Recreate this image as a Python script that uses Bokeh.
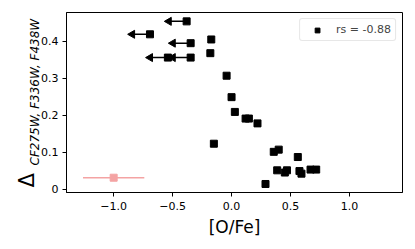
import math
from bokeh.plotting import figure
from bokeh.models import Range1d, Legend, LegendItem, FixedTicker, Title
from bokeh.embed import file_html
from bokeh.resources import INLINE

# upper-limit points (arrows to the left)
ul_x = [-0.381, -0.692, -0.347, -0.54, -0.347]
ul_y = [0.454, 0.419, 0.395, 0.356, 0.356]
arrow_len = 0.15

# detected points
pt_x = [-0.172, -0.18, -0.042, 0.0, 0.028, 0.119, 0.147, 0.22, -0.15, 0.358,
        0.40, 0.562, 0.387, 0.452, 0.47, 0.576, 0.593, 0.67, 0.718, 0.288]
pt_y = [0.405, 0.368, 0.307, 0.249, 0.209, 0.191, 0.191, 0.178, 0.123, 0.101,
        0.107, 0.087, 0.051, 0.045, 0.051, 0.049, 0.042, 0.053, 0.053, 0.014]

# typical error point
err_x = [-1.0]
err_y = [0.031]
err_dx = [0.26]

x_ticks = [-1.0, -0.5, 0.0, 0.5, 1.0]
y_ticks = [0.0, 0.1, 0.2, 0.3, 0.4]
legend_label = "rs = -0.88"
y_label_main = "\u0394"
y_label_sub = "CF275W, F336W, F438W"
x_label = "[O/Fe]"

FONT = "DejaVu Sans"

p = figure(width=415, height=249, output_backend="svg", toolbar_location=None,
           x_range=Range1d(-1.40, 1.45), y_range=Range1d(-0.009, 0.478),
           min_border_left=66, min_border_right=13, min_border_top=12,
           min_border_bottom=57)
p.grid.visible = False
p.outline_line_color = "black"
p.outline_line_width = 1
p.background_fill_color = "white"
p.border_fill_color = "white"

for ax in (p.xaxis[0], p.yaxis[0]):
    ax.major_label_text_font = FONT
    ax.major_label_text_font_size = "11px"
    ax.major_label_text_color = "black"
    ax.minor_tick_line_color = None
    ax.major_tick_out = 4
    ax.major_tick_in = 0
    ax.axis_line_color = "black"
    ax.major_tick_line_color = "black"
p.yaxis.major_label_standoff = 4
p.xaxis.ticker = FixedTicker(ticks=x_ticks)
p.yaxis.ticker = FixedTicker(ticks=y_ticks)
p.xaxis.major_label_overrides = {t: ("\u2212%.1f" % abs(t) if t < 0 else "%.1f" % t) for t in x_ticks}
p.xaxis.axis_label = x_label
p.xaxis.axis_label_text_font = FONT
p.xaxis.axis_label_text_font_size = "17px"
p.xaxis.axis_label_text_font_style = "normal"
p.xaxis.axis_label_text_color = "black"
p.xaxis.axis_label_standoff = 4

# error point
p.segment(x0=[x - d for x, d in zip(err_x, err_dx)], y0=err_y,
          x1=[x + d for x, d in zip(err_x, err_dx)], y1=err_y,
          line_color="#f4a3a3", line_width=1.5)
p.scatter(err_x, err_y, marker="square", size=7, color="#f4a3a3")

# upper limits
p.segment(x0=ul_x, y0=ul_y, x1=[x - arrow_len for x in ul_x], y1=ul_y,
          line_color="black", line_width=1.5)
p.scatter([x - arrow_len for x in ul_x], ul_y, marker="triangle", size=8,
          angle=math.pi / 2, color="black")
p.scatter(ul_x, ul_y, marker="square", size=7, color="black")

r = p.scatter(pt_x, pt_y, marker="square", size=7, color="black")

leg = Legend(items=[LegendItem(label=legend_label, renderers=[r])],
             location="top_right")
leg.label_text_font = FONT
leg.label_text_font_size = "11px"
leg.border_line_color = "#d0d0d0"
leg.border_radius = 3
leg.margin = 6
leg.padding = 4
leg.glyph_width = 26
leg.glyph_height = 12
leg.label_height = 12
leg.label_standoff = 6
leg.spacing = 0
p.add_layout(leg)

# y axis label: Delta with italic subscript, as two left-side titles
t_sub = Title(text=y_label_sub, align="left", offset=27, standoff=-7,
              text_font=FONT, text_font_size="12px", text_font_style="italic",
              text_color="black")
t_main = Title(text=y_label_main, align="left", offset=5, standoff=-18,
               text_font=FONT, text_font_size="21px", text_font_style="normal",
               text_color="black")
p.add_layout(t_sub, "left")
p.add_layout(t_main, "left")

open("out.html", "w").write(file_html(p, INLINE))
